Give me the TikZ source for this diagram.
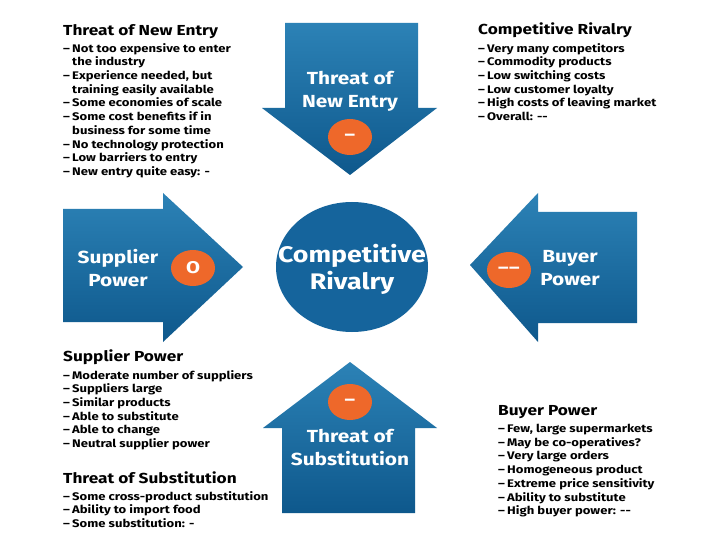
\documentclass[tikz,border=0pt]{standalone}
\usepackage{fontspec}
\setmainfont[FakeStretch=1.19]{Fira Sans}
\usetikzlibrary{shapes.geometric}
\definecolor{blueA}{RGB}{44,130,182}
\definecolor{blueB}{RGB}{14,88,140}
\definecolor{blueC}{RGB}{21,100,156}
\definecolor{orng}{RGB}{238,104,42}
\newcommand\itm{\makebox[9pt][l]{–}}
\newcommand\cnt{\hspace*{9pt}}
\begin{document}
\begin{tikzpicture}[x=1pt,y=-1pt,
  arrowshape/.style={shade, top color=blueA, bottom color=blueB},
  lbl/.style={text=white, align=center, inner sep=0, font=\bfseries\fontsize{17.5}{23}\selectfont},
  badge/.style={ellipse, fill=orng, minimum width=44, minimum height=36, inner sep=0, text=white, font=\bfseries\fontsize{17}{17}\selectfont},
  ttl/.style={anchor=base west, inner sep=0, font=\bfseries\fontsize{14.5}{16}\selectfont},
  items/.style={anchor=north west, inner sep=0, align=left, font=\bfseries\fontsize{11}{13.7}\selectfont}]
\useasboundingbox (0,0) rectangle (720,540);
\fill[white] (0,0) rectangle (720,540);
% arrows
\path[arrowshape] (285,23) -- (418,23) -- (418,108) -- (437,108) -- (350,175) -- (262,108) -- (285,108) -- cycle;
\path[arrowshape] (63,209) -- (163,209) -- (163,193) -- (243,267) -- (163,342) -- (163,322) -- (63,322) -- cycle;
\path[arrowshape] (637,212) -- (538,212) -- (538,193) -- (470,265) -- (538,342) -- (538,323) -- (637,323) -- cycle;
\path[arrowshape] (350,362) -- (437,428) -- (415,428) -- (415,513) -- (282,513) -- (282,428) -- (263,428) -- cycle;
% centre
\node[ellipse, fill=blueC, minimum width=152, minimum height=130, inner sep=0] (cr) at (352,267) {};
\node[lbl, font=\bfseries\fontsize{22.5}{27}\selectfont] (crt) at (352,269) {Competitive\\Rivalry};
% labels
\node[lbl] (tne) at (350,91) {Threat of\\New Entry};
\node[lbl] (sp) at (118,268) {Supplier\\Power};
\node[lbl] (bp) at (570,268) {Buyer\\Power};
\node[lbl] (ts) at (350,448) {Threat of\\Substitution};
% badges
\node[badge] (b1) at (350,137) {–};
\node[badge] (b2) at (193,268) {O};
\node[badge] (b3) at (509,270) {–\kern0.5pt–};
\node[badge] (b4) at (350,402) {–};
% text blocks
\node[ttl] (t1) at (63,36) {Threat of New Entry};
\node[items] (i1) at (63,43) {\itm Not too expensive to enter\\\cnt the industry\\\itm Experience needed, but\\\cnt training easily available\\\itm Some economies of scale\\\itm Some cost benefits if in\\\cnt business for some time\\\itm No technology protection\\\itm Low barriers to entry\\\itm New entry quite easy: -};
\node[ttl] (t2) at (478,35) {Competitive Rivalry};
\node[items] (i2) at (478,43) {\itm Very many competitors\\\itm Commodity products\\\itm Low switching costs\\\itm Low customer loyalty\\\itm High costs of leaving market\\\itm Overall: -{}-};
\node[ttl] (t3) at (63,361) {Supplier Power};
\node[items] (i3) at (63,370) {\itm Moderate number of suppliers\\\itm Suppliers large\\\itm Similar products\\\itm Able to substitute\\\itm Able to change\\\itm Neutral supplier power};
\node[ttl] (t4) at (63,483) {Threat of Substitution};
\node[items] (i4) at (63,491) {\itm Some cross-product substitution\\\itm Ability to import food\\\itm Some substitution: -};
\node[ttl] (t5) at (498,415) {Buyer Power};
\node[items] (i5) at (498,424) {\itm Few, large supermarkets\\\itm May be co-operatives?\\\itm Very large orders\\\itm Homogeneous product\\\itm Extreme price sensitivity\\\itm Ability to substitute\\\itm High buyer power: -{}-};
\end{tikzpicture}
\end{document}
